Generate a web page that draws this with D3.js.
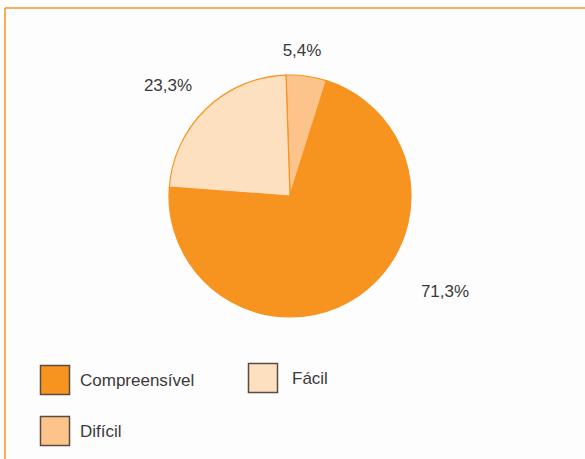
<!DOCTYPE html>
<html>
<head>
<meta charset="utf-8">
<script src="https://cdn.jsdelivr.net/npm/d3@7"></script>
<style>
  html, body { margin: 0; padding: 0; background: #ffffff; }
  svg { display: block; }
  text { font-family: "Liberation Sans", Arial, sans-serif; fill: #3a3a3a; }
</style>
</head>
<body>
<svg id="chart" width="585" height="459"></svg>
<script>
// Avaliação da linguagem: distribuição das respostas (%)
const categories = ["Difícil", "Compreensível", "Fácil"];
const values = [5.4, 71.3, 23.3];
const labels = ["5,4%", "71,3%", "23,3%"];
const legendOrder = ["Compreensível", "Fácil", "Difícil"];

const colors = d3.scaleOrdinal()
  .domain(categories)
  .range(["#fcc38b", "#f7931f", "#fde0bf"]);

const W = 585, H = 459;
const svg = d3.select("#chart");

// Frame: top and left rules
const accent = "#f7931f";
svg.append("rect").attr("x", 5).attr("y", 8).attr("width", W - 5).attr("height", H - 8)
  .attr("fill", "#fdfdfd");
svg.append("line").attr("x1", 5).attr("y1", 8).attr("x2", W).attr("y2", 8)
  .attr("stroke", accent).attr("stroke-width", 1.5);
svg.append("line").attr("x1", 5).attr("y1", 8).attr("x2", 5).attr("y2", H)
  .attr("stroke", accent).attr("stroke-width", 1.5);

// Pie, rotated slightly counter-clockwise from 12 o'clock
const cx = 290, cy = 196, radius = 121;
const rot = -0.033;
const pie = d3.pie().sort(null).value(d => d.value)
  .startAngle(rot).endAngle(2 * Math.PI + rot);
const data = categories.map((c, i) => ({ cat: c, value: values[i], label: labels[i] }));
const arcs = pie(data);
const arc = d3.arc().innerRadius(0).outerRadius(radius);

const g = svg.append("g").attr("transform", `translate(${cx},${cy})`);
g.selectAll("path.slice")
  .data(arcs)
  .join("path")
  .attr("class", "slice")
  .attr("d", arc)
  .attr("fill", d => colors(d.data.cat))
  .attr("stroke", accent)
  .attr("stroke-width", 1.2)
  .attr("stroke-linejoin", "round");

// Percentage labels placed outside the slices
const labelOffsets = {
  "Difícil": [12, -140],
  "Compreensível": [155, 101],
  "Fácil": [-122, -105]
};
g.selectAll("text.pct")
  .data(arcs)
  .join("text")
  .attr("class", "pct")
  .attr("x", d => labelOffsets[d.data.cat][0])
  .attr("y", d => labelOffsets[d.data.cat][1])
  .attr("text-anchor", "middle")
  .attr("font-size", 17)
  .text(d => d.data.label);

// Legend
const legendPos = {
  "Compreensível": [40, 365],
  "Fácil": [248, 363],
  "Difícil": [40, 416]
};
const leg = svg.append("g").selectAll("g")
  .data(legendOrder)
  .join("g")
  .attr("transform", d => `translate(${legendPos[d][0]},${legendPos[d][1]})`);
leg.append("rect")
  .attr("x", 0.5).attr("y", 0.5)
  .attr("width", 29).attr("height", 29)
  .attr("fill", d => colors(d))
  .attr("stroke", "#5b4a3d")
  .attr("stroke-width", 1.5);
leg.append("text")
  .attr("x", d => d === "Fácil" ? 44 : 40)
  .attr("y", 21)
  .attr("font-size", 17)
  .text(d => d);
</script>
</body>
</html>
